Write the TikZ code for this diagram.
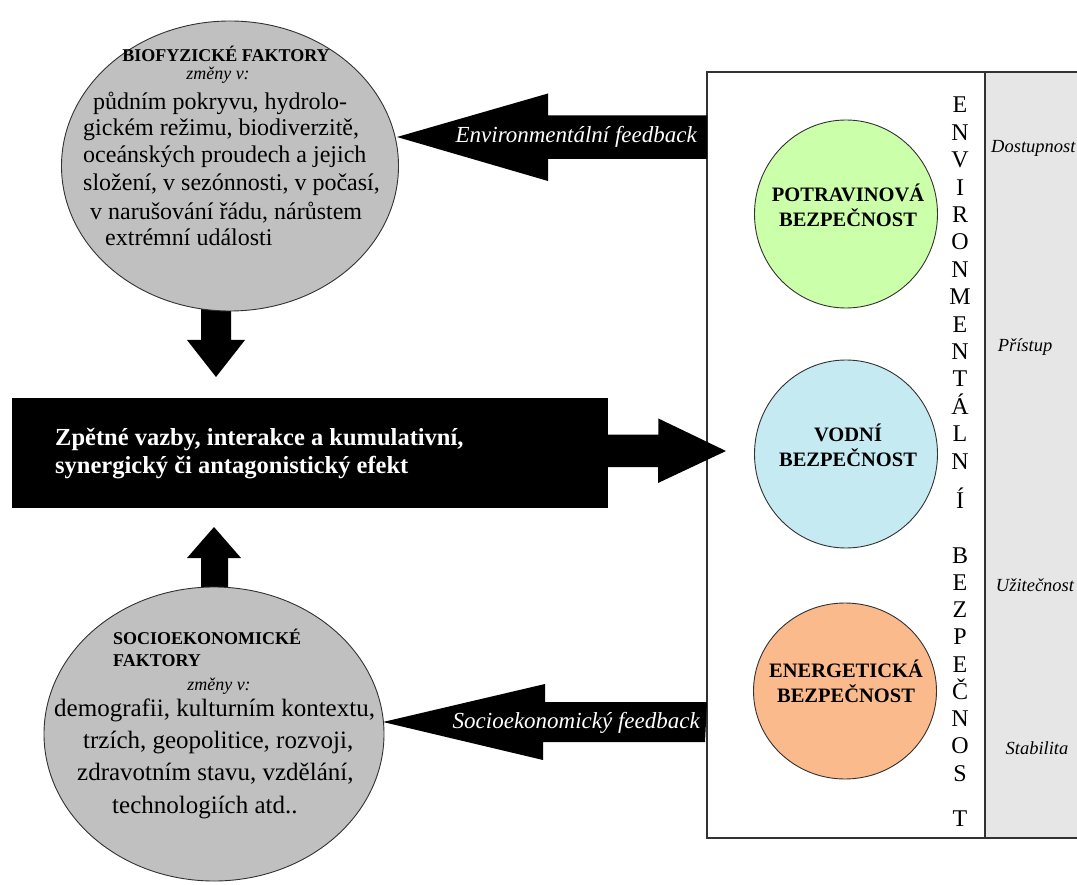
\documentclass[tikz,border=0pt]{standalone}
\usepackage{fontspec}
\setmainfont{Liberation Serif}
\usetikzlibrary{shapes.geometric,calc}

\definecolor{factorgrey}{RGB}{192,192,192}
\definecolor{columngrey}{RGB}{230,230,230}
\definecolor{foodgreen}{RGB}{204,255,170}
\definecolor{waterblue}{RGB}{198,234,242}
\definecolor{energyorange}{RGB}{250,186,140}
\definecolor{edgegrey}{RGB}{50,50,50}

\tikzset{
  factor/.style={ellipse, draw=edgegrey, line width=0.9pt, fill=factorgrey, inner sep=0pt},
  security/.style={ellipse, draw=edgegrey, line width=0.9pt, inner sep=0pt,
                   minimum width=183, minimum height=188},
  blockarrow/.style={fill=black},
  bodytext/.style={anchor=base west, inner sep=0pt, font=\fontsize{24}{27}\selectfont},
  socbody/.style={anchor=base west, inner sep=0pt, font=\fontsize{25}{30}\selectfont},
  headtext/.style={inner sep=0pt, font=\fontsize{18}{22}\selectfont\bfseries},
  smallital/.style={inner sep=0pt, font=\fontsize{18}{20}\selectfont\itshape},
  seclabel/.style={inner sep=0pt, align=center, font=\fontsize{20.5}{25}\selectfont\bfseries},
  feedback/.style={inner sep=0pt, text=white, font=\fontsize{23}{26}\selectfont\itshape},
  vletter/.style={anchor=base, inner sep=0pt, font=\fontsize{24}{26}\selectfont},
  dimension/.style={inner sep=0pt, font=\fontsize{18.5}{20}\selectfont\itshape},
}

\begin{document}
\begin{tikzpicture}[x=1pt, y=-1pt]
\useasboundingbox (0,0) rectangle (1077,885);
\fill[white] (0,0) rectangle (1077,885);

% frame holding the three securities and the column of dimensions
\coordinate (frameNW) at (707,72);
\coordinate (frameSW) at (707,838);
\coordinate (divN) at (985,72);
\coordinate (divS) at (985,838);
\fill[columngrey] (divN) rectangle (1077,838);
\draw[edgegrey, line width=1.4pt] (1077,72) -- (frameNW) -- (frameSW) -- (1077,838);
\draw[edgegrey, line width=1.4pt] (divN) -- (divS);

% named ends of the block arrows
\coordinate (envtip) at (397,137);
\coordinate (envtail) at (frameNW |- envtip);
\coordinate (soctip) at (383,722);
\coordinate (soctail) at (frameNW |- soctip);
\coordinate (downtip) at (216,377);
\coordinate (uptip) at (214,527);
\coordinate (righttip) at (726,451);

% central black box
\node[fill=black, minimum width=596, minimum height=110, inner sep=0pt, anchor=north west]
  (core) at (12,398) {};
\coordinate (righttail) at (core.east |- righttip);

% block arrows (drawn under the circles)
\fill[blockarrow] (envtail) ++(0,-21.5) -- ++(-159,0) -- ++(0,-22) -- (envtip)
  -- ++(151,44) -- ++(0,-22) -- ++(159,0) -- cycle;
\fill[blockarrow] (soctail) ++(0,-20) -- ++(-162,0) -- ++(0,-18) -- (soctip)
  -- ++(160,38) -- ++(0,-18) -- ++(162,0) -- cycle;
\fill[blockarrow] (downtip) ++(-15,-72) -- ++(30,0) -- ++(0,35) -- ++(14,0) -- (downtip)
  -- ++(-29,-37) -- ++(14,0) -- cycle;
\fill[blockarrow] (uptip) ++(-13,75) -- ++(0,-44) -- ++(-14,0) -- (uptip)
  -- ++(27,31) -- ++(-13,0) -- ++(0,44) -- cycle;
\fill[blockarrow] (righttail) ++(-2,-16.5) -- ++(52,0) -- ++(0,-16) -- (righttip)
  -- ++(-68,32) -- ++(0,-16) -- ++(-52,0) -- cycle;

% factor circles
\node[factor, minimum width=337, minimum height=290] (bio) at (230,166) {};
\node[factor, minimum width=340, minimum height=294] (socio) at (214,734) {};

% security circles
\node[security, fill=foodgreen] (food) at (846,214) {};
\node[security, fill=waterblue] (water) at (846,454) {};
\node[security, fill=energyorange, minimum height=176] (energy) at (845,691) {};

% text of the biophysical factors
\node[headtext] (biohead) at (226,54) {BIOFYZICKÉ FAKTORY};
\node[smallital] (biochg) at (218,75) {změny v:};
\node[bodytext] (bio1) at (93,110) {půdním pokryvu, hydrolo-};
\node[bodytext] (bio2) at (83,136) {gickém režimu, biodiverzitě,};
\node[bodytext] (bio3) at (83,163) {oceánských proudech a jejich};
\node[bodytext] (bio4) at (83,191) {složení, v sezónnosti, v počasí,};
\node[bodytext] (bio5) at (90,220) {v narušování řádu, nárůstem};
\node[bodytext] (bio6) at (105,246) {extrémní události};

% text of the socio-economic factors
\node[headtext, anchor=base west] (sochead1) at (113,644) {SOCIOEKONOMICKÉ};
\node[headtext, anchor=base west] (sochead2) at (113,666) {FAKTORY};
\node[smallital] (socchg) at (219,686) {změny v:};
\node[socbody] (soc1) at (54,716) {demografii, kulturním kontextu,};
\node[socbody] (soc2) at (83,748) {trzích, geopolitice, rozvoji,};
\node[socbody] (soc3) at (77,780) {zdravotním stavu, vzdělání,};
\node[socbody] (soc4) at (112,813) {technologiích atd..};

% text of the central box
\node[inner sep=0pt, anchor=west, align=left, text=white,
      font=\fontsize{24.5}{28}\selectfont\bfseries] (coretext) at (55,454)
  {Zpětné vazby, interakce a kumulativní,\\synergický či antagonistický efekt};

% feedback labels on the arrows
\node[feedback, anchor=east] (envlabel) at (697,137) {Environmentální feedback};
\node[feedback, anchor=east] (soclabel) at (700,723) {Socioekonomický feedback};

% labels of the securities
\node[seclabel] (foodlabel) at (848,205) {POTRAVINOVÁ\\BEZPEČNOST};
\node[seclabel] (waterlabel) at (848,445) {VODNÍ\\BEZPEČNOST};
\node[seclabel] (energylabel) at (846,681) {ENERGETICKÁ\\BEZPEČNOST};

% vertical caption
\foreach \ch/\yy [count=\i] in {E/105,N/132.4,V/159.8,I/187.2,R/214.6,O/242,N/269.4,
    M/296.8,E/324.2,N/351.6,T/379,Á/406.4,L/433.8,N/461.2,Í/500,
    B/555,E/582,Z/609,P/636,E/664,Č/691,N/718,O/745,S/773,T/818}
  \node[vletter] (vl\i) at (960,\yy+8) {\ch};

% dimensions of security
\node[dimension, anchor=west] (dim1) at (991,148) {Dostupnost};
\node[dimension] (dim2) at (1025,347) {Přístup};
\node[dimension] (dim3) at (1035,585) {Užitečnost};
\node[dimension] (dim4) at (1037,748) {Stabilita};
\end{tikzpicture}
\end{document}
